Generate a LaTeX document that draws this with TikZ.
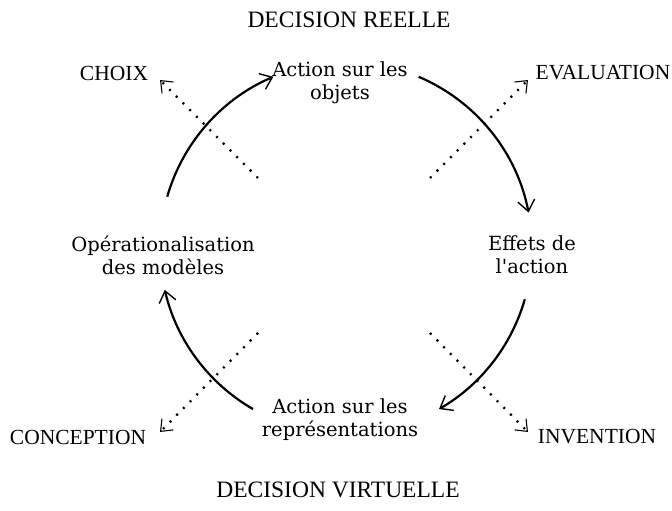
\documentclass[tikz,border=0pt]{standalone}
\usepackage{fontspec}
\setmainfont{Liberation Serif}
\newfontfamily\etapefont{DejaVu Serif}
\usetikzlibrary{arrows.meta,calc}
\tikzset{
  etape/.style={font=\etapefont\fontsize{19.5}{23}\selectfont,align=center,inner sep=0pt},
  pole/.style={font=\fontsize{23.5}{26}\selectfont,inner sep=0pt},
  issue/.style={font=\fontsize{21.5}{24}\selectfont,inner sep=0pt},
  cyc/.style={-{Straight Barb[length=11pt,width=17pt,line width=1.4pt]},line width=2.2pt},
  fuite/.style={-{Straight Barb[length=10pt,width=16pt,line width=1.1pt]},line width=2.3pt,
    dash pattern=on 2pt off 7.5pt},
}

\begin{document}
\begin{tikzpicture}[x=1pt,y=1pt]
  \useasboundingbox (0,0) rectangle (672,511);
  \coordinate (c) at (346,263);
  % etapes du cycle
  \node[etape] (objets) at (340,428) {Action sur les\\objets};
  \node[etape] (effets) at (532,256) {Effets de\\l'action};
  \node[etape] (modeles) at (163,256) {Opérationalisation\\des modèles};
  \node[etape] (repres) at (340,91) {Action sur les\\représentations};
  % niveaux de decision
  \node[pole] (reelle) at (349,491) {DECISION REELLE};
  \node[pole] (virtuelle) at (338,21) {DECISION VIRTUELLE};
  % sorties
  \node[issue] (choix) at (114,438) {CHOIX};
  \node[issue] (evaluation) at (603,438) {EVALUATION};
  \node[issue] (conception) at (78,74) {CONCEPTION};
  \node[issue] (invention) at (597,74) {INVENTION};
  % cycle
  \coordinate (a1) at ($(c)+(164:186)$);
  \coordinate (a2) at ($(c)+(67:186)$);
  \coordinate (a3) at ($(c)+(-16:186)$);
  \coordinate (a4) at ($(c)+(240:186)$);
  \draw[cyc] (a1) arc[start angle=164,end angle=113,radius=186];
  \draw[cyc] (a2) arc[start angle=67,end angle=11,radius=186];
  \draw[cyc] (a3) arc[start angle=-16,end angle=-60,radius=186];
  \draw[cyc] (a4) arc[start angle=240,end angle=193,radius=186];
  % fleches pointillees
  \coordinate (s1) at (258,333); \coordinate (t1) at (160,431);
  \coordinate (s2) at (430,333); \coordinate (t2) at (528,431);
  \coordinate (s3) at (258,178); \coordinate (t3) at (160,79);
  \coordinate (s4) at (430,178); \coordinate (t4) at (528,79);
  \draw[fuite] (s1) -- (t1);
  \draw[fuite] (s2) -- (t2);
  \draw[fuite] (s3) -- (t3);
  \draw[fuite] (s4) -- (t4);
\end{tikzpicture}
\end{document}
